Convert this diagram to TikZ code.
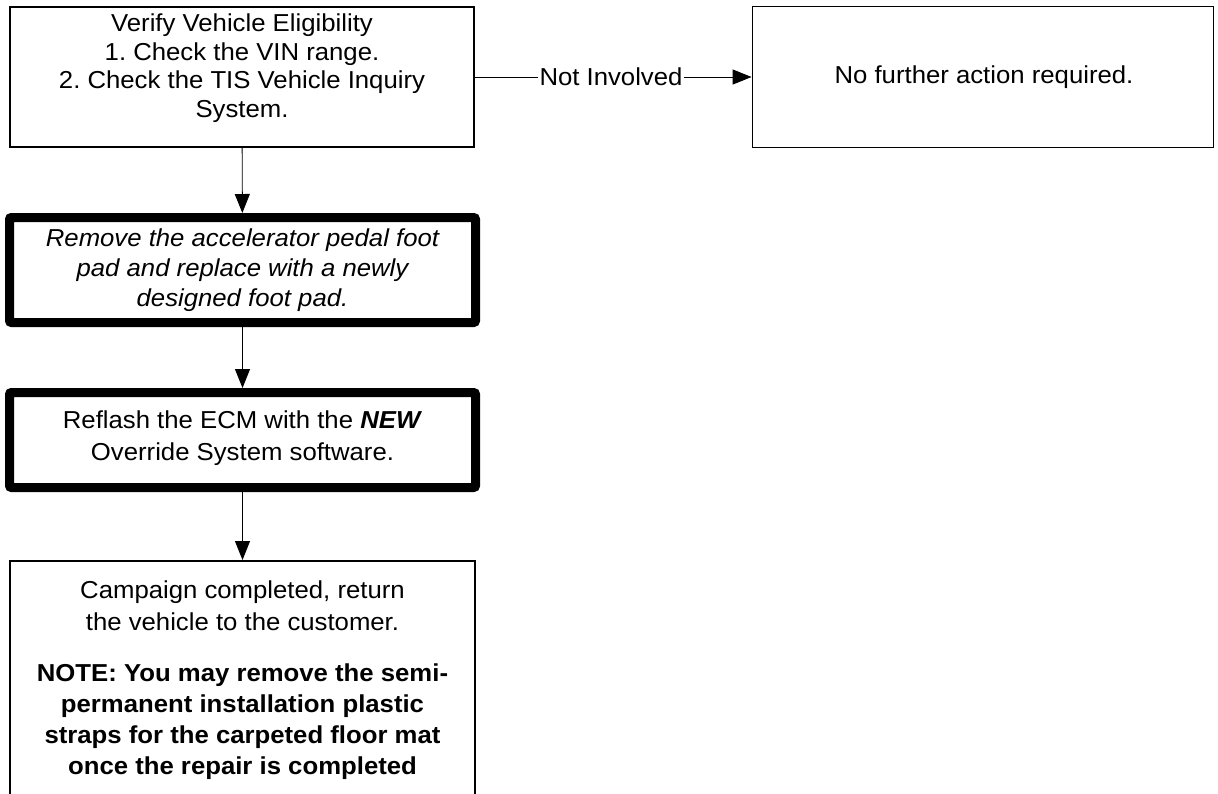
\documentclass[tikz,border=0pt]{standalone}
\usepackage{fontspec}
\setmainfont{Liberation Sans}[FakeStretch=1.05]
\usetikzlibrary{arrows.meta}
\frenchspacing
\begin{document}
\begin{tikzpicture}[x=1pt,y=-1pt,
  thinbox/.style={draw, line width=1.8pt, inner sep=0pt, align=center},
  thickbox/.style={draw, line width=9pt, rounded corners=2pt, inner sep=0pt, align=center},
  arr/.style={line width=0.9pt, -{Triangle[length=19pt,width=15pt]}},
  txt/.style={font=\fontsize{24.5}{28.5}\selectfont}
]
\useasboundingbox (0,0) rectangle (1218,793);
\clip (0,0) rectangle (1218,793);
\fill[white] (0,0) rectangle (1218,793);
\node[thinbox, minimum width=464pt, minimum height=140pt] (b1) at (242,77) {};
\node[txt, align=center, inner sep=0pt] (t1) at (242,68)
  {Verify Vehicle Eligibility\\1. Check the VIN range.\\2. Check the TIS Vehicle Inquiry\\System.};
\node[thinbox, minimum width=461pt, minimum height=141pt] (b2) at (983,77) {};
\node[txt, inner sep=0pt] (t2) at (984,77) {No further action required.};
\node[thickbox, minimum width=466pt, minimum height=105pt] (b3) at (242.5,270) {};
\node[font=\fontsize{24.5}{30}\selectfont\itshape, align=center, inner sep=0pt] (t3) at (242.5,270)
  {Remove the accelerator pedal foot\\pad and replace with a newly\\designed foot pad.};
\node[thickbox, minimum width=466pt, minimum height=95pt] (b4) at (242.5,440) {};
\node[font=\fontsize{24.5}{32}\selectfont, align=center, inner sep=0pt] (t4) at (242.5,438.5)
  {Reflash the ECM with the \textbf{\textit{NEW}}\\Override System software.};
\node[thinbox, minimum width=465pt, minimum height=300pt, anchor=north] (b5) at (242.5,560) {};
\node[font=\fontsize{24.5}{32}\selectfont, align=center, inner sep=0pt] (t5a) at (242.5,606)
  {Campaign completed, return\\the vehicle to the customer.};
\node[font=\fontsize{24.5}{31}\selectfont\bfseries, align=center, inner sep=0pt] (t5b) at (242.5,722)
  {NOTE: You may remove the semi-\\permanent installation plastic\\straps for the carpeted floor mat\\once the repair is completed};
\draw[arr] (b1) -- (b3);
\draw[arr] (b3) -- (b4);
\draw[arr] (b4) -- (b5);
\node[txt, fill=white, inner sep=1pt] (lbl) at (611,77) {Not Involved};
\draw[line width=0.8pt] (b1.east) -- (lbl.west);
\draw[arr] (lbl.east) -- (b2.west);
\end{tikzpicture}
\end{document}
